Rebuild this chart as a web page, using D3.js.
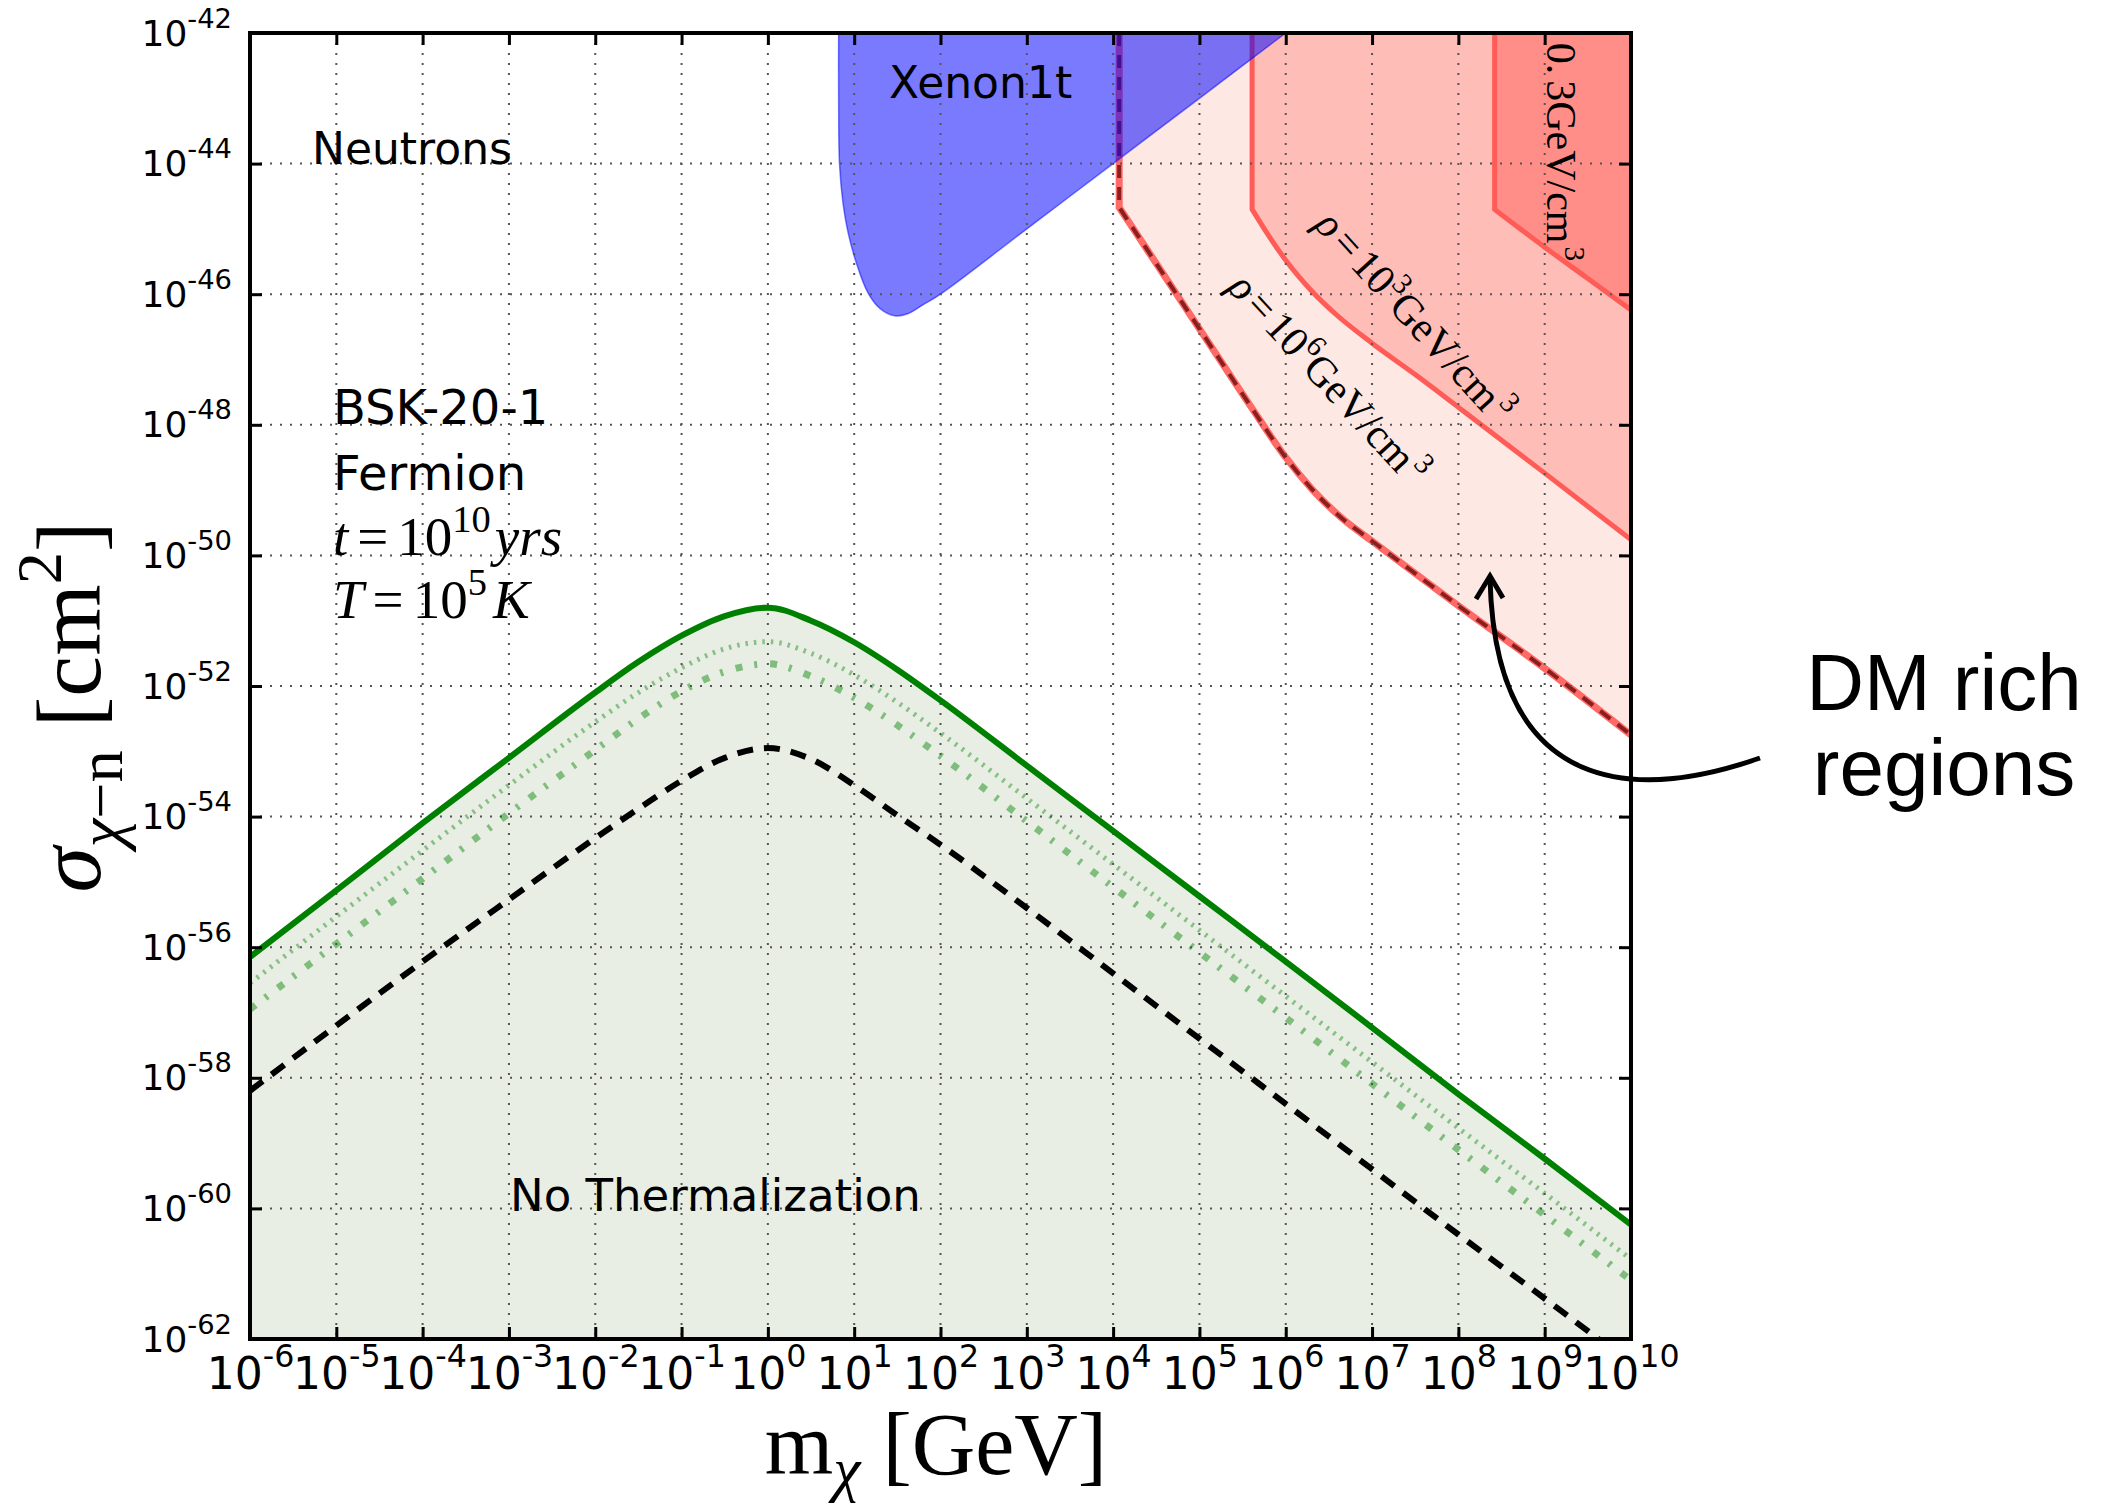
<!DOCTYPE html>
<html>
<head>
<meta charset="utf-8">
<script src="https://cdn.jsdelivr.net/npm/d3@7"></script>
<style>
  body { margin: 0; background: #fff; }
  svg { display: block; }
</style>
</head>
<body>
<svg id="chart" width="2115" height="1508"></svg>
<script>
// all values are log10 (mass in GeV, cross section in cm^2)
const massExp = [-6, -5, -4, -3, -2, -1.5, -1, -0.5, 0, 0.5, 1, 1.5, 2, 3, 4, 5, 6, 7, 8, 9, 10];
const greenSolid   = [-56.15, -55.13, -54.1, -53.1, -52.1, -51.63, -51.23, -50.93, -50.8, -51.0, -51.33, -51.75, -52.22, -53.22, -54.22, -55.22, -56.22, -57.23, -58.25, -59.24, -60.25];
const greenDotted  = [-56.55, -55.53, -54.52, -53.52, -52.55, -52.1, -51.72, -51.43, -51.32, -51.5, -51.83, -52.25, -52.72, -53.72, -54.73, -55.74, -56.75, -57.76, -58.77, -59.77, -60.78];
const greenDashDot = [-56.95, -55.95, -54.95, -53.95, -52.98, -52.5, -52.08, -51.78, -51.66, -51.85, -52.18, -52.6, -53.07, -54.07, -55.08, -56.08, -57.08, -58.09, -59.1, -60.1, -61.1];
const blackDashed  = [-58.2, -57.2, -56.22, -55.27, -54.33, -53.88, -53.45, -53.1, -52.95, -53.12, -53.52, -53.98, -54.43, -55.4, -56.4, -57.4, -58.4, -59.4, -60.4, -61.38, -62.38];

const xenonMass  = [0.82, 0.82, 0.83, 0.87, 0.93, 1.02, 1.16, 1.3, 1.47, 1.62, 1.8, 2.0, 3.0, 4.0, 5.0, 6.0];
const xenonSigma = [-42, -43, -44, -44.6, -45.06, -45.5, -45.98, -46.22, -46.33, -46.3, -46.16, -46.0, -45.0, -44.0, -43.0, -42.0];

const rho6Mass  = [4.07, 4.07, 4.4, 4.8, 5.2, 5.6, 6.0, 6.3, 6.65, 7.0, 8.0, 9.0, 10.0];
const rho6Sigma = [-42, -44.67, -45.33, -46.13, -46.93, -47.73, -48.5, -48.98, -49.43, -49.78, -50.77, -51.73, -52.75];
const rho3Mass  = [5.61, 5.61, 5.8, 6.0, 6.3, 6.6, 7.0, 7.5, 8.0, 9.0, 10.0];
const rho3Sigma = [-42, -44.7, -45.1, -45.48, -45.95, -46.33, -46.75, -47.23, -47.73, -48.74, -49.76];
const rhoLocalMass  = [8.42, 8.42, 9.0, 9.5, 10.0];
const rhoLocalSigma = [-42, -44.7, -45.28, -45.76, -46.24];

const xTickExp = [-6, -5, -4, -3, -2, -1, 0, 1, 2, 3, 4, 5, 6, 7, 8, 9, 10];
const yTickExp = [-42, -44, -46, -48, -50, -52, -54, -56, -58, -60, -62];

const svg = d3.select("#chart");
const X0 = 250, X1 = 1631, Y0 = 33, Y1 = 1339;

const x = d3.scaleLog().domain([1e-6, 1e10]).range([X0, X1]);
const y = d3.scaleLog().domain([1e-62, 1e-42]).range([Y1, Y0]);

const pts = (mx, sy) => mx.map((m, i) => [Math.pow(10, m), Math.pow(10, sy[i])]);
const line = d3.line().x(d => x(d[0])).y(d => y(d[1])).curve(d3.curveMonotoneX);

const SANS = "DejaVu Sans", SERIF = "Liberation Serif";

// text with sub/superscripts
function rich(text, parts, size) {
  let shift = 0;
  parts.forEach(p => {
    const target = p.sup ? -(p.rise || 0.42 * size) : p.sub ? (p.drop || 0.24 * size) : 0;
    const ts = text.append("tspan").text(p.t)
      .attr("dy", target - shift)
      .attr("font-size", (p.sup || p.sub) ? size * (p.scale || 0.7) : size);
    if (p.it) ts.attr("font-style", "italic");
    if (p.dx) ts.attr("dx", p.dx);
    shift = target;
  });
  return text;
}

svg.append("defs").append("clipPath").attr("id", "clip")
  .append("rect").attr("x", X0).attr("y", Y0).attr("width", X1 - X0).attr("height", Y1 - Y0);

const plot = svg.append("g").attr("clip-path", "url(#clip)");

// no-thermalization fill
plot.append("path")
  .attr("d", d3.area().x(d => x(d[0])).y0(Y1).y1(d => y(d[1])).curve(d3.curveMonotoneX)(pts(massExp, greenSolid)))
  .attr("fill", "#e8eee4");

// DM rich regions
function region(mx, sy) {
  const p = pts(mx, sy);
  const curve = line(p.slice(1));
  const edge = `M${x(p[0][0])},${y(p[0][1])}L` + curve.slice(1);
  return { edge, fill: edge + `L${X1},${Y0}Z` };
}
const r6 = region(rho6Mass, rho6Sigma);
const r3 = region(rho3Mass, rho3Sigma);
const rl = region(rhoLocalMass, rhoLocalSigma);

plot.append("path").attr("d", r6.fill).attr("fill", "#fde8e3");
plot.append("path").attr("d", r3.fill).attr("fill", "#ffbdb7");
plot.append("path").attr("d", rl.fill).attr("fill", "#ff8e88");

plot.append("path").attr("d", r6.edge).attr("fill", "none").attr("stroke", "#ff6a66").attr("stroke-width", 7);
plot.append("path").attr("d", r6.edge).attr("fill", "none").attr("stroke", "#8b1f1f").attr("stroke-width", 4)
  .attr("stroke-dasharray", "13,9");
plot.append("path").attr("d", r3.edge).attr("fill", "none").attr("stroke", "#ff5c58").attr("stroke-width", 5);
plot.append("path").attr("d", rl.edge).attr("fill", "none").attr("stroke", "#ff5c58").attr("stroke-width", 5);

// Xenon1t
const xenonPath = d3.line().x(d => x(d[0])).y(d => y(d[1])).curve(d3.curveCatmullRom.alpha(0.5))(pts(xenonMass, xenonSigma)) + "Z";
plot.append("path").attr("d", xenonPath)
  .attr("fill", "#0000ff").attr("fill-opacity", 0.52)
  .attr("stroke", "#0000ff").attr("stroke-opacity", 0.5).attr("stroke-width", 1.5);

// grid
const grid = plot.append("g").attr("stroke", "#555").attr("stroke-width", 2).attr("stroke-dasharray", "2,8");
grid.selectAll(".gx").data(xTickExp).join("line")
  .attr("x1", d => x(Math.pow(10, d))).attr("x2", d => x(Math.pow(10, d)))
  .attr("y1", Y0).attr("y2", Y1);
grid.selectAll(".gy").data(yTickExp).join("line")
  .attr("y1", d => y(Math.pow(10, d))).attr("y2", d => y(Math.pow(10, d)))
  .attr("x1", X0).attr("x2", X1);

// thermalization curves
plot.append("path").attr("d", line(pts(massExp, blackDashed)))
  .attr("fill", "none").attr("stroke", "#000").attr("stroke-width", 6).attr("stroke-dasharray", "16,11");
plot.append("path").attr("d", line(pts(massExp, greenDotted)))
  .attr("fill", "none").attr("stroke", "#008000").attr("stroke-opacity", 0.42).attr("stroke-width", 5).attr("stroke-dasharray", "2.5,6");
plot.append("path").attr("d", line(pts(massExp, greenDashDot)))
  .attr("fill", "none").attr("stroke", "#008000").attr("stroke-opacity", 0.45).attr("stroke-width", 7).attr("stroke-dasharray", "7,12,3,13");
plot.append("path").attr("d", line(pts(massExp, greenSolid)))
  .attr("fill", "none").attr("stroke", "#008000").attr("stroke-width", 6);

// labels inside the plot
svg.append("text").attr("x", 312).attr("y", 164).attr("font-family", SANS).attr("font-size", 44).text("Neutrons");
svg.append("text").attr("x", 889).attr("y", 98).attr("font-family", SANS).attr("font-size", 44).text("Xenon1t");
svg.append("text").attr("x", 333).attr("y", 424).attr("font-family", SANS).attr("font-size", 48).text("BSK-20-1");
svg.append("text").attr("x", 333).attr("y", 490).attr("font-family", SANS).attr("font-size", 48).text("Fermion");
svg.append("text").attr("x", 510).attr("y", 1211).attr("font-family", SANS).attr("font-size", 45).text("No Thermalization");

rich(svg.append("text").attr("x", 333).attr("y", 555).attr("font-family", SERIF), [
  { t: "t", it: true }, { t: "=", dx: 9 }, { t: "10", dx: 9 }, { t: "10", sup: true }, { t: "yrs", it: true, dx: 4 }
], 55);
rich(svg.append("text").attr("x", 333).attr("y", 618).attr("font-family", SERIF), [
  { t: "T", it: true }, { t: "=", dx: 9 }, { t: "10", dx: 9 }, { t: "5", sup: true }, { t: "K", it: true, dx: 6 }
], 55);

const rhoLabel = (cx, cy, ang, parts) =>
  rich(svg.append("text").attr("font-family", SERIF).attr("text-anchor", "middle")
    .attr("transform", `translate(${cx},${cy}) rotate(${ang})`), parts, 42);
rhoLabel(1404, 326, 47.8, [{ t: "ρ", it: true }, { t: "=", dx: 5 }, { t: "10", dx: 5 }, { t: "3", sup: true }, { t: "GeV/cm" }, { t: "3", sup: true, dx: 3 }]);
rhoLabel(1318, 388, 47.4, [{ t: "ρ", it: true }, { t: "=", dx: 5 }, { t: "10", dx: 5 }, { t: "6", sup: true }, { t: "GeV/cm" }, { t: "3", sup: true, dx: 3 }]);
rhoLabel(1547, 152, 90, [{ t: "0." }, { t: "3GeV/cm", dx: 6 }, { t: "3", sup: true, dx: 3 }]);

// axes: inward ticks on all four sides
const xv = xTickExp.map(e => Math.pow(10, e));
const yv = yTickExp.map(e => Math.pow(10, e));
const styleAxis = g => {
  g.select(".domain").remove();
  g.selectAll(".tick line").attr("stroke", "#000").attr("stroke-width", 3);
};
const xAxis = svg.append("g").attr("transform", `translate(0,${Y1})`)
  .call(d3.axisBottom(x).tickValues(xv).tickSizeInner(-12).tickSizeOuter(0).tickFormat(() => "")).call(styleAxis);
svg.append("g").attr("transform", `translate(0,${Y0})`)
  .call(d3.axisTop(x).tickValues(xv).tickSizeInner(-12).tickSizeOuter(0).tickFormat(() => "")).call(styleAxis);
const yAxis = svg.append("g").attr("transform", `translate(${X0},0)`)
  .call(d3.axisLeft(y).tickValues(yv).tickSizeInner(-12).tickSizeOuter(0).tickFormat(() => "")).call(styleAxis);
svg.append("g").attr("transform", `translate(${X1},0)`)
  .call(d3.axisRight(y).tickValues(yv).tickSizeInner(-12).tickSizeOuter(0).tickFormat(() => "")).call(styleAxis);

xAxis.selectAll(".tick").each(function (d) {
  const e = Math.round(Math.log10(d));
  rich(d3.select(this).append("text").attr("y", 50).attr("text-anchor", "middle")
    .attr("font-family", SANS).attr("fill", "#000"),
    [{ t: "10" }, { t: String(e), sup: true, rise: 22, scale: 0.72 }], 44);
});
yAxis.selectAll(".tick").each(function (d) {
  const e = Math.round(Math.log10(d));
  rich(d3.select(this).append("text").attr("x", -18).attr("y", 12).attr("text-anchor", "end")
    .attr("font-family", SANS).attr("fill", "#000"),
    [{ t: "10" }, { t: String(e), sup: true, rise: 18, scale: 0.76 }], 36);
});

svg.append("rect").attr("x", X0).attr("y", Y0).attr("width", X1 - X0).attr("height", Y1 - Y0)
  .attr("fill", "none").attr("stroke", "#000").attr("stroke-width", 4);

// axis titles
rich(svg.append("text").attr("x", 936).attr("y", 1474).attr("text-anchor", "middle").attr("font-family", SERIF), [
  { t: "m" }, { t: "χ", sub: true, it: true, drop: 16 }, { t: " [GeV]" }
], 88);
rich(svg.append("text").attr("text-anchor", "middle").attr("font-family", SERIF)
  .attr("transform", "translate(100,707) rotate(-90)"), [
  { t: "σ", it: true }, { t: "χ", sub: true, it: true }, { t: "−n", sub: true }, { t: " [cm" }, { t: "2", sup: true }, { t: "]" }
], 92);

// annotation outside the axes
svg.append("path").attr("d", "M1760,758 C1640,800 1495,800 1490,578")
  .attr("fill", "none").attr("stroke", "#000").attr("stroke-width", 5);
svg.append("path").attr("d", "M1476,599 L1490,576 L1503,598")
  .attr("fill", "none").attr("stroke", "#000").attr("stroke-width", 5);
svg.append("text").attr("x", 1944).attr("y", 710).attr("text-anchor", "middle")
  .attr("font-family", "Liberation Sans").attr("font-size", 80).text("DM rich");
svg.append("text").attr("x", 1944).attr("y", 795).attr("text-anchor", "middle")
  .attr("font-family", "Liberation Sans").attr("font-size", 80).text("regions");
</script>
</body>
</html>
